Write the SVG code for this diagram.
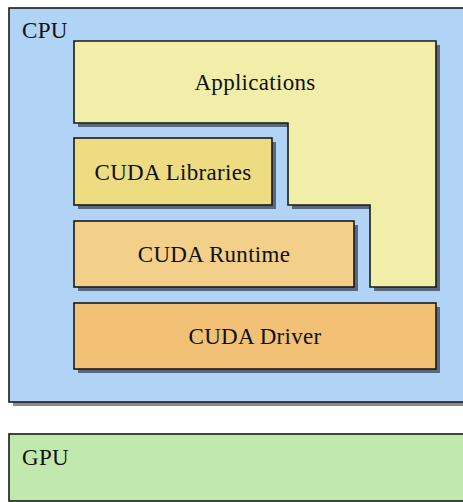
<svg xmlns="http://www.w3.org/2000/svg" width="463" height="502" viewBox="0 0 463 502">
<style>
.box{stroke:#1a1a1a;stroke-width:1.6}
.sh{fill:#58687e}
.lbl{font-family:"Liberation Serif","Times New Roman",serif;font-size:23px;letter-spacing:0.3px;fill:#111}
.mid{text-anchor:middle}
</style>
<rect width="463" height="502" fill="#ffffff"/>
<g id="cpu">
<rect x="13" y="12" width="460" height="394" fill="#8a8a8a"/>
<rect class="box" x="9" y="8" width="460" height="394" fill="#b0d3f6"/>
<text class="lbl" x="22" y="38">CPU</text>
</g>
<g id="applications">
<path class="sh" d="M78,45 H440 V291 H374 V209 H292 V127 H78 Z"/>
<path class="box" d="M74,41 H436 V287 H370 V205 H288 V123 H74 Z" fill="#f0eea8"/>
<text class="lbl mid" x="255" y="90">Applications</text>
</g>
<g id="cuda-libraries">
<rect class="sh" x="78" y="142" width="198" height="67"/>
<rect class="box" x="74" y="138" width="198" height="67" fill="#eedc82"/>
<text class="lbl mid" x="173" y="180">CUDA Libraries</text>
</g>
<g id="cuda-runtime">
<rect class="sh" x="78" y="225" width="280" height="66"/>
<rect class="box" x="74" y="221" width="280" height="66" fill="#f2d08a"/>
<text class="lbl mid" x="214" y="262">CUDA Runtime</text>
</g>
<g id="cuda-driver">
<rect class="sh" x="78" y="307" width="362" height="66"/>
<rect class="box" x="74" y="303" width="362" height="66" fill="#f3c175"/>
<text class="lbl mid" x="255" y="344">CUDA Driver</text>
</g>
<g id="gpu">
<rect class="box" x="9" y="434" width="460" height="67" fill="#c2e9ad"/>
<text class="lbl" x="22" y="465">GPU</text>
</g>
<g id="connectors"></g>
</svg>
